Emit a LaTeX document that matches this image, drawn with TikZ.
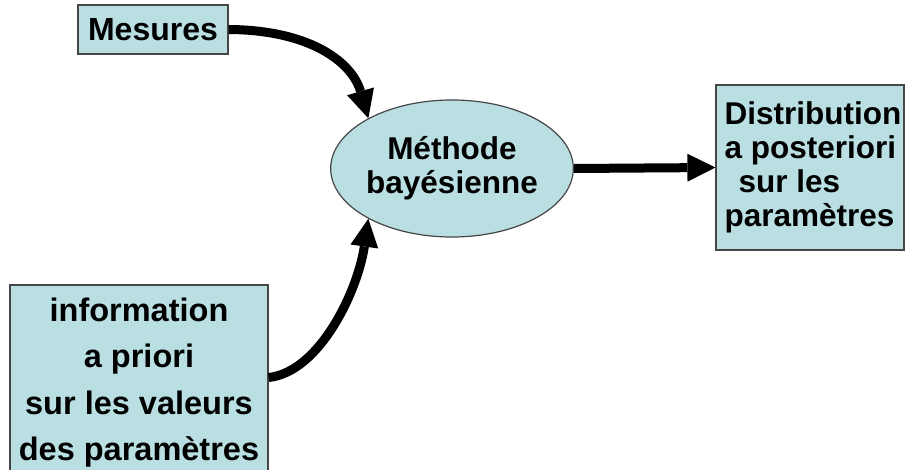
\documentclass[tikz,border=0pt]{standalone}
\usepackage{fontspec}
\setmainfont{Liberation Sans}
\usetikzlibrary{arrows.meta,shapes.geometric}
\definecolor{boxfill}{RGB}{185,223,227}
\definecolor{boxline}{RGB}{70,70,70}
\newcommand{\mytight}{\setlength{\lineskiplimit}{-100pt}}
\begin{document}
\begin{tikzpicture}[x=1pt,y=-1pt,
  box/.style={draw=boxline, line width=1.2pt, fill=boxfill, inner sep=0pt},
  onefont/.style={font={\bfseries\fontsize{32}{38}\selectfont\mytight}},
  tightfont/.style={font={\bfseries\fontsize{31.5}{34}\selectfont\mytight}},
  widefont/.style={font={\bfseries\fontsize{32.5}{46.5}\selectfont\mytight}},
  flow/.style={line width=9pt, -{Triangle[length=28pt,width=28pt,line width=0pt]}}]
\useasboundingbox (0,0) rectangle (907,470);
\node[box, onefont, minimum width=150pt, minimum height=49pt] (mes) at (153,29.5) {Mesures};
\node[box, tightfont, ellipse, align=center, minimum width=240pt, minimum height=137pt] (meth) at (452,168.5) {Méthode\\bayésienne};
\node[box, tightfont, align=left, minimum width=188pt, minimum height=165pt] (dist) at (810,167.5) {\hspace*{6pt}Distribution\\\hspace*{6pt}a posteriori\\\hspace*{20pt}sur les\\\hspace*{6pt}paramètres};
\node[box, widefont, align=center, minimum width=258pt, minimum height=195pt] (info) at (139,382.5) {information\\a priori\\sur les valeurs\\des paramètres};
\draw[flow] (mes.east) .. controls (310,30) and (352,62) .. (meth.149);
\draw[flow] ([yshift=5pt]info.east) .. controls (320,372) and (358,290) .. (meth.211);
\draw[flow] (meth.east) -- (dist.west);
\end{tikzpicture}
\end{document}
